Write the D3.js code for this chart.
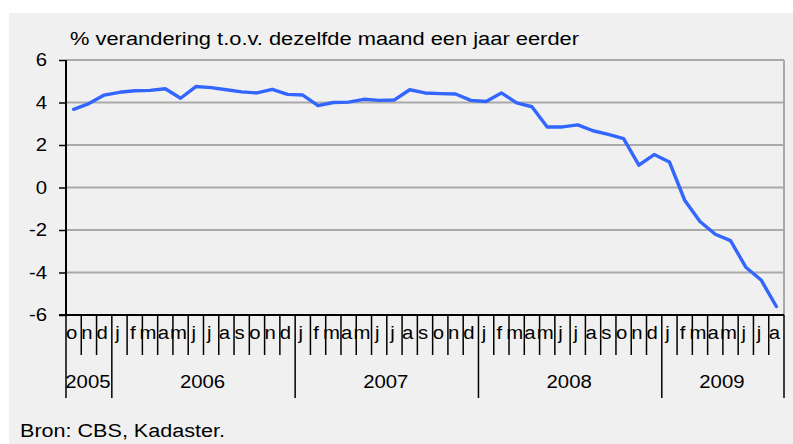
<!DOCTYPE html>
<html>
<head>
<meta charset="utf-8">
<script src="https://cdn.jsdelivr.net/npm/d3@7"></script>
<style>
  html, body { margin: 0; padding: 0; background: #ffffff; }
  svg { display: block; }
  text { font-family: "Liberation Sans", Arial, sans-serif; fill: #000; font-size: 18px; }
</style>
</head>
<body>
<svg id="chart" width="793" height="444"></svg>
<script>
// ---- data ----
const title = "% verandering t.o.v. dezelfde maand een jaar eerder";
const source = "Bron: CBS, Kadaster.";
const monthLabels = [
  "o","n","d",
  "j","f","m","a","m","j","j","a","s","o","n","d",
  "j","f","m","a","m","j","j","a","s","o","n","d",
  "j","f","m","a","m","j","j","a","s","o","n","d",
  "j","f","m","a","m","j","j","a"
];
const years = ["2005","2006","2007","2008","2009"];
const monthsPerYear = [3, 12, 12, 12, 8];
const values = [
  3.68, 3.95, 4.35,
  4.48, 4.55, 4.57, 4.65, 4.2, 4.75, 4.7, 4.6, 4.5, 4.45, 4.62, 4.38,
  4.35, 3.85, 4.0, 4.02, 4.15, 4.1, 4.12, 4.6, 4.45, 4.42, 4.4, 4.1,
  4.05, 4.45, 3.98, 3.8, 2.85, 2.85, 2.95, 2.67, 2.5, 2.3, 1.05, 1.55,
  1.2, -0.6, -1.6, -2.2, -2.5, -3.75, -4.35, -5.6
];
const yTicks = [-6, -4, -2, 0, 2, 4, 6];

(function () {
const svg = d3.select("#chart");
const pLeft = 66, pRight = 784, pTop = 60, pBottom = 315;
const sx = 1.13;

svg.append("rect").attr("x", 9).attr("y", 13).attr("width", 793 - 9).attr("height", 444 - 13)
  .attr("fill", "#f0f0f0");

const x = d3.scaleBand().domain(d3.range(values.length)).range([pLeft, pRight]).padding(0);
const y = d3.scaleLinear().domain([-6, 6]).range([pBottom, pTop]);

// gridlines
svg.append("g").selectAll("line").data(yTicks.filter(t => t > -6)).join("line")
  .attr("x1", pLeft).attr("x2", pRight)
  .attr("y1", d => y(d)).attr("y2", d => y(d))
  .attr("stroke", "#a9a9a9").attr("stroke-width", 2);

// right border
svg.append("line").attr("x1", pRight).attr("x2", pRight).attr("y1", pTop).attr("y2", pBottom)
  .attr("stroke", "#a9a9a9").attr("stroke-width", 2);

// y axis ticks
const yAxis = d3.axisLeft(y).tickValues(yTicks).tickSize(7).tickFormat("");
const gy = svg.append("g").attr("transform", `translate(${pLeft},0)`).call(yAxis);
gy.select(".domain").remove();
gy.selectAll(".tick line").attr("stroke", "#000").attr("stroke-width", 1.5);

// y labels
svg.append("g").selectAll("text").data(yTicks).join("text")
  .attr("transform", d => `translate(47,${y(d)}) scale(${sx},1)`)
  .attr("dy", "0.36em")
  .attr("text-anchor", "end")
  .text(d => String(d));

// month/year boundary ticks
const boundaries = d3.range(values.length + 1).map(i => i < values.length ? x(i) : pRight);
let cum = 0;
const yearBounds = [0];
monthsPerYear.forEach(n => { cum += n; yearBounds.push(cum); });

svg.append("g").selectAll("line").data(boundaries).join("line")
  .attr("x1", d => d).attr("x2", d => d)
  .attr("y1", pBottom).attr("y2", (d, i) => yearBounds.includes(i) ? 398 : 355)
  .attr("stroke", "#000").attr("stroke-width", 1.5);

// axes lines
svg.append("line").attr("x1", pLeft).attr("x2", pLeft).attr("y1", pTop).attr("y2", pBottom)
  .attr("stroke", "#000").attr("stroke-width", 2);
svg.append("line").attr("x1", pLeft - 7).attr("x2", pRight).attr("y1", pBottom).attr("y2", pBottom)
  .attr("stroke", "#000").attr("stroke-width", 2);

// month labels
svg.append("g").selectAll("text").data(monthLabels).join("text")
  .attr("transform", (d, i) => `translate(${x(i) + x.bandwidth() / 2 - 2},339) scale(${sx},1)`)
  .attr("text-anchor", "middle")
  .text(d => d);

// year labels
svg.append("g").selectAll("text").data(years).join("text")
  .attr("transform", (d, i) => {
    const a = yearBounds[i], b = yearBounds[i + 1];
    const xa = x(a), xb = b < values.length ? x(b) : pRight;
    return `translate(${(xa + xb) / 2 - 1},388) scale(${sx},1)`;
  })
  .attr("text-anchor", "middle")
  .text(d => d);

// line
const line = d3.line().x((d, i) => x(i) + x.bandwidth() / 2).y(d => y(d));
svg.append("path").datum(values).attr("d", line)
  .attr("fill", "none").attr("stroke", "#3366ff").attr("stroke-width", 3.4)
  .attr("stroke-linejoin", "round").attr("stroke-linecap", "round");

// title & source
svg.append("text").attr("x", 70).attr("y", 45)
  .attr("textLength", 509).attr("lengthAdjust", "spacingAndGlyphs").text(title);
svg.append("text").attr("x", 20).attr("y", 437)
  .attr("textLength", 205).attr("lengthAdjust", "spacingAndGlyphs").text(source);
})();
</script>
</body>
</html>
